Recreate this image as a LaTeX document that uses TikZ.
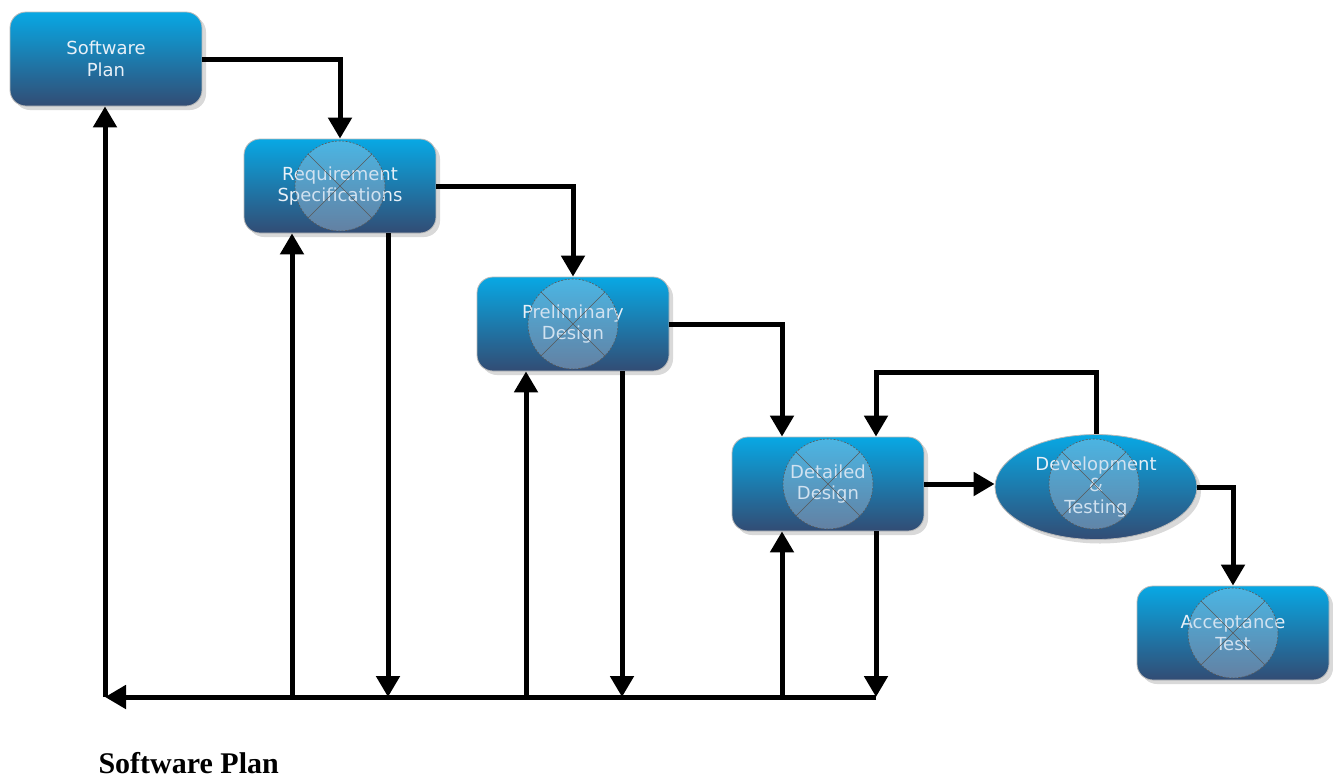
\documentclass[tikz,border=0pt]{standalone}
\usepackage{fontspec}
\setmainfont{Liberation Serif}
\newfontfamily\boxfont{DejaVu Sans}
\usetikzlibrary{arrows.meta,positioning,shapes.geometric,shadows}
\definecolor{phasetop}{RGB}{8,168,228}
\definecolor{phasebot}{RGB}{50,76,116}
\definecolor{phasetext}{RGB}{232,240,248}
\definecolor{markfill}{RGB}{175,205,230}

\begin{document}
\begin{tikzpicture}[x=1pt, y=-1pt,
		phasebase/.style={draw=gray!55, line width=0.8pt, top color=phasetop, bottom color=phasebot, text=phasetext, font=\boxfont\fontsize{18}{21.5}\selectfont, align=center, inner sep=0pt, drop shadow={shadow xshift=4pt, shadow yshift=-4pt, opacity=0.3}},
		phase/.style={phasebase, rectangle, rounded corners=16pt, minimum width=192pt, minimum height=94pt},
		phaseoval/.style={phasebase, ellipse, minimum width=202pt, minimum height=105pt},
		xmark/.style={circle, minimum size=90pt, inner sep=0pt, draw=black!65, line width=0.6pt, dash pattern=on 2pt off 1.5pt, fill=markfill, fill opacity=0.4,
			path picture={\draw[solid, black!65, line width=0.6pt] (path picture bounding box.north west) -- (path picture bounding box.south east) (path picture bounding box.north east) -- (path picture bounding box.south west);}},
		arrow/.style={line width=5pt, -{Triangle[length=21pt, width=23pt]}}
	]
	\useasboundingbox (0,0) rectangle (1333,780);

	\node (plan) [phase] at (106,59) {Software\\Plan};
	\node (req)  [phase] at (340,186) {Requirement\\Specifications};
	\node (pre)  [phase] at (573,324) {Preliminary\\Design};
	\node (det)  [phase] at (828,484) {Detailed\\Design};
	\node (dev)  [phaseoval] at (1096,487) {Development\\\&\\Testing};
	\node (acc)  [phase] at (1233,633) {Acceptance\\Test};

	% crossed-out circles
	\node (reqX) [xmark] at (req.center) {};
	\node (preX) [xmark] at (pre.center) {};
	\node (detX) [xmark] at (det.center) {};
	\node (devX) [xmark] at (1094,484) {};
	\node (accX) [xmark] at (acc.center) {};

	% ends of the feedback lines
	\coordinate (reqUp)  at ([xshift=-48pt]req.south);
	\coordinate (reqDn)  at ([xshift=48pt]req.south);
	\coordinate (preUp)  at ([xshift=-47pt]pre.south);
	\coordinate (preDn)  at ([xshift=49pt]pre.south);
	\coordinate (detUp)  at ([xshift=-46pt]det.south);
	\coordinate (detDn)  at ([xshift=48pt]det.south);
	\coordinate (detInL) at ([xshift=-46pt]det.north);
	\coordinate (detInR) at ([xshift=48pt]det.north);
	\coordinate (busL)   at (105,697);

	\draw [arrow] (plan.east) -| (req.north);
	\draw [arrow] (req.east) -| (pre.north);
	\draw [arrow] (pre.east) -| (detInL);
	\draw [arrow] (det.east) -- (det.east -| dev.west);
	\draw [arrow] (dev.north) -- ++(0,-62) -| (detInR);
	\draw [arrow] (dev.east) -| (acc.north);

	\draw [arrow] (detDn |- busL) -- (busL);
	\draw [arrow] (busL) -- (busL |- plan.south);
	\draw [arrow] (reqUp |- busL) -- (reqUp);
	\draw [arrow] (reqDn) -- (reqDn |- busL);
	\draw [arrow] (preUp |- busL) -- (preUp);
	\draw [arrow] (preDn) -- (preDn |- busL);
	\draw [arrow] (detUp |- busL) -- (detUp);
	\draw [arrow] (detDn) -- (detDn |- busL);

	\node (title) [anchor=base west, font=\bfseries\fontsize{30}{34}\selectfont] at (95,773) {Software Plan};
\end{tikzpicture}
\end{document}
